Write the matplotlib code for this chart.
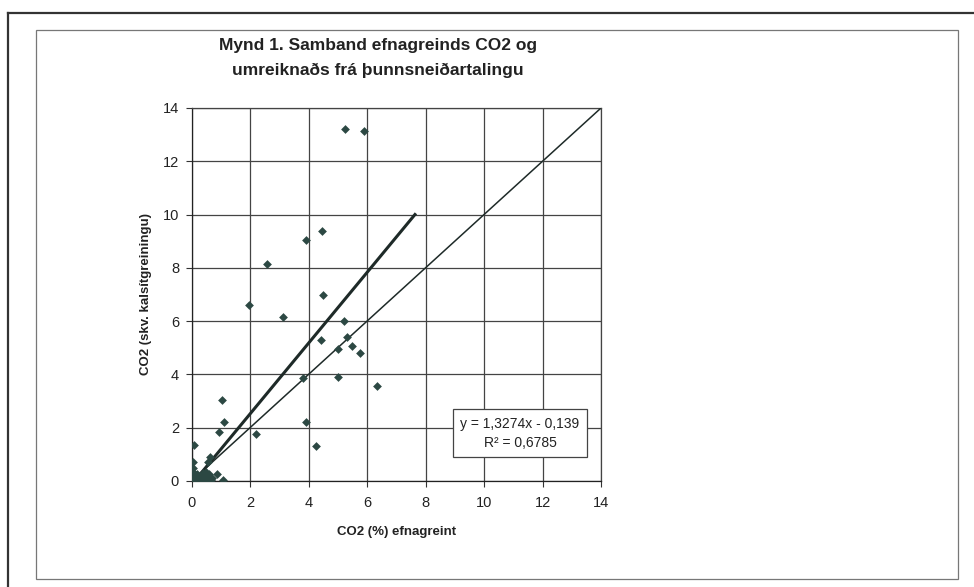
import matplotlib
matplotlib.use("Agg")
import matplotlib.pyplot as plt
from matplotlib.patches import Rectangle
from matplotlib.lines import Line2D
import numpy as np

plt.rcParams['font.family'] = ['Liberation Sans', 'DejaVu Sans']

# Data
x_vals = [4.47, 3.93, 2.58, 1.97, 3.12, 4.51, 5.21, 5.30, 4.42, 5.00, 5.49, 5.75,
          3.82, 5.00, 6.34, 5.25, 5.90, 3.92, 4.26, 2.20,
          1.05, 1.10, 0.95, 0.10, 0.04, 0.04, 0.04, 0.63, 0.57, 0.88, 1.07,
          0.00, 0.05, 0.10, 0.15, 0.20, 0.25, 0.30, 0.30, 0.35, 0.40, 0.45,
          0.50, 0.55, 0.60, 0.20, 0.10, 0.65, 0.40, 0.70, 0.50]
y_vals = [9.40, 9.05, 8.15, 6.60, 6.15, 7.00, 6.00, 5.40, 5.30, 4.95, 5.05, 4.80,
          3.85, 3.90, 3.55, 13.20, 13.15, 2.20, 1.33, 1.75,
          3.05, 2.20, 1.85, 1.35, 0.72, 0.50, 0.35, 0.90, 0.72, 0.25, 0.05,
          0.00, 0.05, 0.00, 0.10, 0.05, 0.15, 0.00, 0.20, 0.10, 0.05, 0.20,
          0.10, 0.00, 0.25, 0.25, 0.15, 0.05, 0.30, 0.10, 0.35]

slope = 1.3274
intercept = -0.139
r2 = 0.6785
trend_x = [0.05, 7.64]
diag = [0, 14]

ticks = [0, 2, 4, 6, 8, 10, 12, 14]
title = "Mynd 1. Samband efnagreinds CO2 og\numreiknaðs frá þunnsneiðartalingu"
xlabel = "CO2 (%) efnagreint"
ylabel = "CO2 (skv. kalsítgreiningu)"
eq_text = "y = 1,3274x - 0,139\nR² = 0,6785"

fig = plt.figure(figsize=(9.74, 5.87), dpi=100)

# Outer frame lines (top and left)
fig.add_artist(Line2D([8/974, 1.0], [1 - 13/587, 1 - 13/587], color='#333333', lw=1.6))
fig.add_artist(Line2D([8/974, 8/974], [0.0, 1 - 13/587], color='#333333', lw=1.6))
# Inner chart box
fig.add_artist(Rectangle((36/974, 1 - 579/587), (958 - 36)/974, (579 - 30)/587,
                         fill=False, edgecolor='#777777', lw=0.9))

ax = fig.add_axes([191.5/974, 1 - 481/587, (601 - 191.5)/974, (481 - 108)/587])
ax.set_xlim(0, 14)
ax.set_ylim(0, 14)
ax.set_xticks(ticks)
ax.set_yticks(ticks)
ax.grid(True, color='#444444', lw=0.9)
ax.set_axisbelow(True)
for s in ax.spines.values():
    s.set_color('#444444')
    s.set_linewidth(0.9)
ax.spines['left'].set_color('#222222')
ax.spines['bottom'].set_color('#222222')
ax.tick_params(direction='out', length=4, width=0.8, labelsize=10.5, color='#333333',
               labelcolor='#222222')
ax.tick_params(axis='x', pad=7)
ax.tick_params(axis='y', pad=5)

ax.plot(diag, diag, color='#1e2a28', lw=1.1, zorder=3)
tx = np.array(trend_x)
ax.plot(tx, slope * tx + intercept, color='#1e2a28', lw=2.2, zorder=3)
ax.scatter(x_vals, y_vals, marker='D', s=20, color='#2c4843', zorder=4, linewidths=0)

ax.set_xlabel(xlabel, fontsize=9.5, fontweight='bold', color='#222222', labelpad=11)
ax.set_ylabel(ylabel, fontsize=9.5, fontweight='bold', color='#222222', labelpad=8)

fig.text(378/974, 1 - 58/587, title, ha='center', va='center', fontsize=12.5,
         fontweight='bold', color='#222222', linespacing=1.75)

ax.text(11.23, 1.8, eq_text,
        ha='center', va='center', fontsize=10, color='#222222', linespacing=1.45,
        bbox=dict(boxstyle='square,pad=0.55', facecolor='white', edgecolor='#444444', lw=0.9),
        zorder=5)

fig.savefig("out.png", dpi=100, facecolor='white')
